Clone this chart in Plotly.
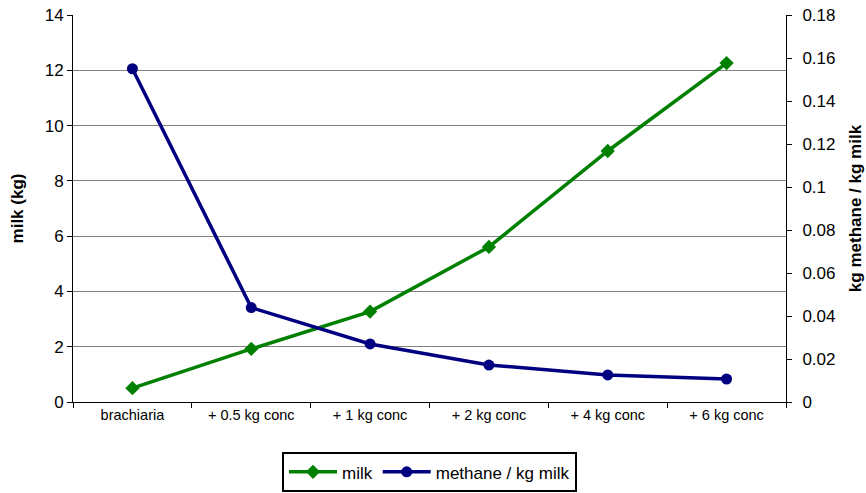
import plotly.graph_objects as go

categories = ["brachiaria", "+ 0.5 kg conc", "+ 1 kg conc", "+ 2 kg conc", "+ 4 kg conc", "+ 6 kg conc"]
milk = [0.50, 1.92, 3.27, 5.61, 9.08, 12.26]
methane = [0.155, 0.0439, 0.027, 0.0172, 0.0126, 0.0107]
left_ticks = [0, 2, 4, 6, 8, 10, 12, 14]
right_ticks = [0, 0.02, 0.04, 0.06, 0.08, 0.1, 0.12, 0.14, 0.16, 0.18]

FONT = "Liberation Sans, Arial, sans-serif"

fig = go.Figure()
fig.add_trace(go.Scatter(
    x=categories, y=milk, name="milk", mode="lines+markers",
    line=dict(color="#008000", width=3.5),
    marker=dict(symbol="diamond", size=11, color="#008000"),
    yaxis="y"))
fig.add_trace(go.Scatter(
    x=categories, y=methane, name="methane / kg milk", mode="lines+markers",
    line=dict(color="#000080", width=3.5),
    marker=dict(symbol="circle", size=11, color="#000080"),
    yaxis="y2"))

fig.update_layout(
    width=866, height=493,
    margin=dict(l=73, r=80, t=15, b=91, autoexpand=False),
    paper_bgcolor="white", plot_bgcolor="white",
    font=dict(family=FONT, size=12, color="black"),
    showlegend=True,
    legend=dict(orientation="h", x=0.5, xanchor="center", y=-0.13, yanchor="top",
                bordercolor="black", borderwidth=2, font=dict(size=17, family=FONT),
                itemwidth=48, tracegroupgap=0),
    xaxis=dict(type="category", range=[-0.5, 5.5], showline=True, linecolor="black",
               linewidth=1, ticks="outside", tickson="boundaries", ticklen=5,
               tickcolor="black", showgrid=False, tickfont=dict(size=14.5, family=FONT),
               mirror=False, automargin=False),
    yaxis=dict(range=[0, 14], tickvals=left_ticks, showline=True, linecolor="black",
               linewidth=1, ticks="outside", ticklen=5, tickcolor="black",
               showgrid=True, gridcolor="#808080", gridwidth=1, automargin=False,
               title=dict(text="<b>milk (kg)</b>", font=dict(size=17, family=FONT), standoff=16),
               tickfont=dict(size=17, family=FONT), zeroline=False),
    yaxis2=dict(range=[0, 0.18], tickvals=right_ticks,
                ticktext=["0", "0.02", "0.04", "0.06", "0.08", "0.1", "0.12", "0.14", "0.16", "0.18"],
                overlaying="y", side="right", showline=True, linecolor="black",
                linewidth=1, ticks="outside", ticklen=5, tickcolor="black",
                showgrid=False, zeroline=False, automargin=False, ticklabelstandoff=7,
                title=dict(text="<b>kg methane / kg milk</b>", font=dict(size=17, family=FONT), standoff=14),
                tickfont=dict(size=17, family=FONT)),
)

fig.write_html("out.html", config={"displayModeBar": False},
               post_script="document.body.style.margin='0';document.body.style.overflow='hidden';")
